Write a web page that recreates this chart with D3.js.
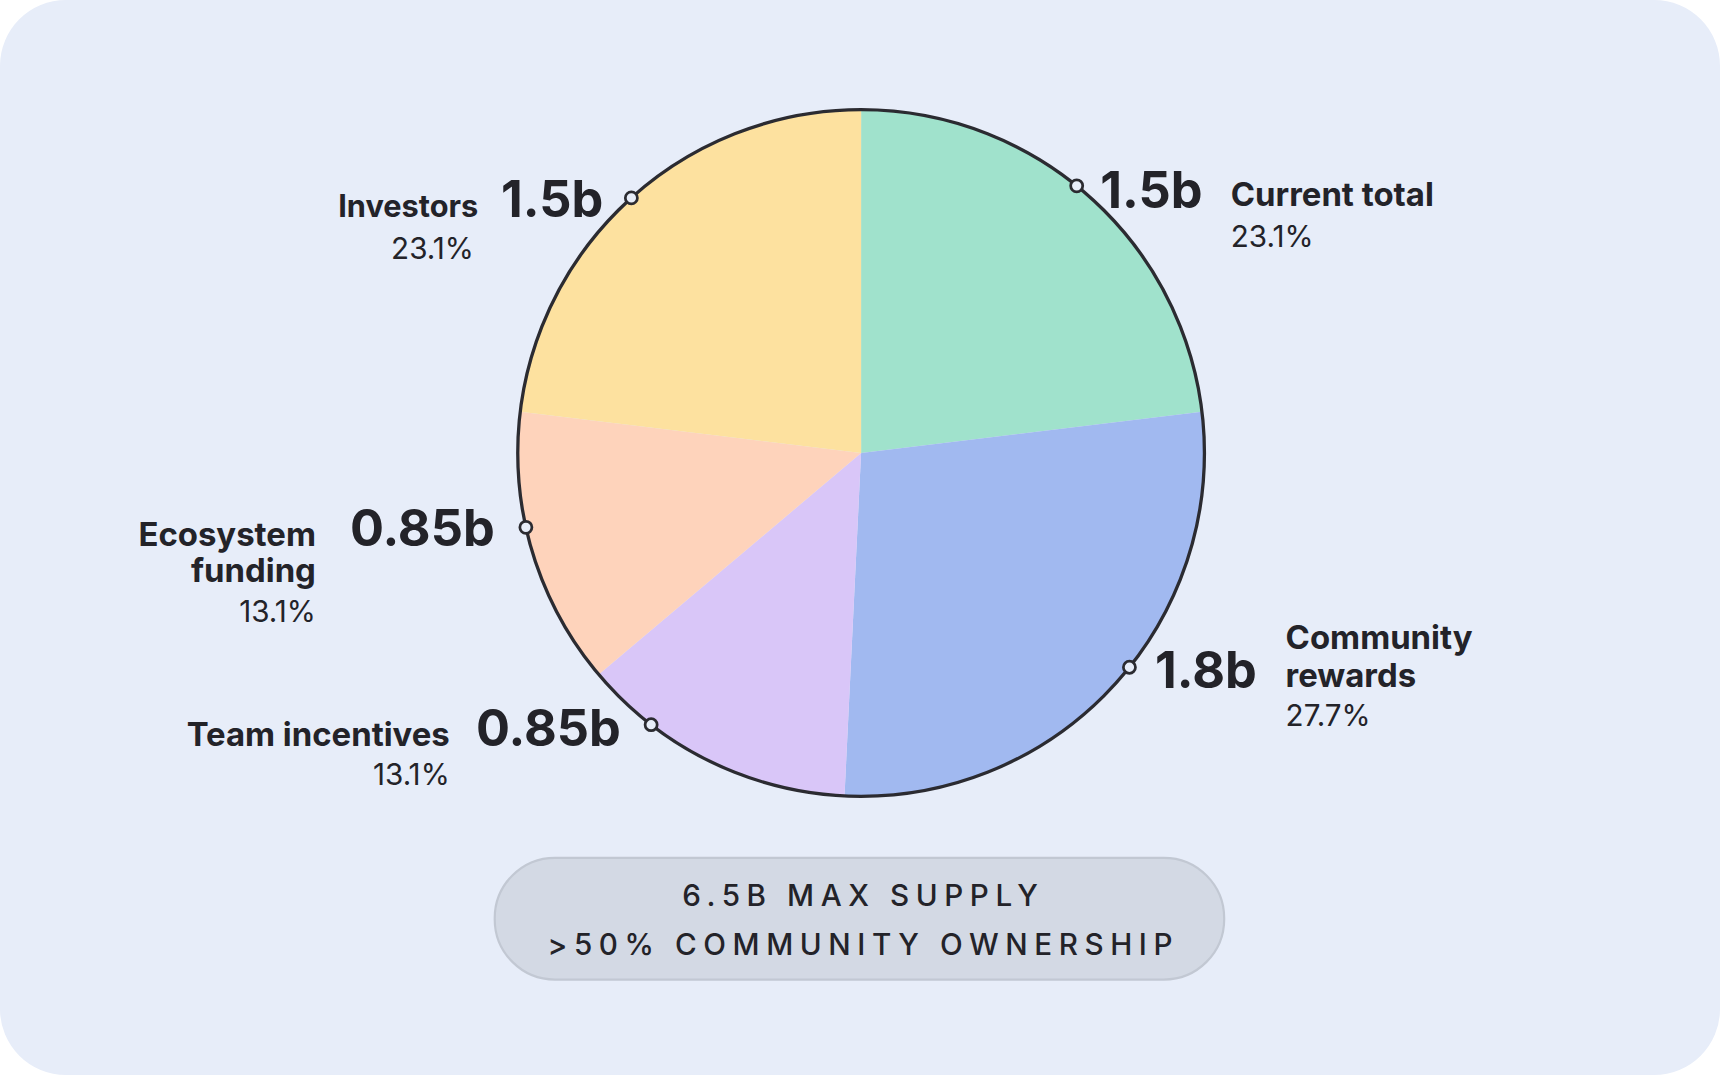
<!DOCTYPE html>
<html><head><meta charset="utf-8">
<script src="https://cdn.jsdelivr.net/npm/d3@7"></script>
<style>body{margin:0;background:#fff}svg{display:block}</style></head>
<body><svg id="c" width="1720" height="1076"></svg>
<script>
const categories=["Current total","Community rewards","Team incentives","Ecosystem funding","Investors"];
const values=[1.5,1.8,0.85,0.85,1.5];
const valueLabels=["1.5b","1.8b","0.85b","0.85b","1.5b"];
const percents=["23.1%","27.7%","13.1%","13.1%","23.1%"];
const colors=["#a0e2cc","#a1b9f0","#d9c6f8","#fed3bb","#fde19f"];
const dotAngles=[38.9,128.6,-142.3,-102.5,-42]; // degrees clockwise from top

const s=1720/1568;
const svg=d3.select("#c");
const g=svg.append("g").attr("transform",`scale(${s})`);
g.append("rect").attr("x",0).attr("y",0).attr("width",1568).attr("height",980).attr("rx",60).attr("fill","#e7edf9");
const cx=785,cy=413,r=313;
const pg=g.append("g").attr("transform",`translate(${cx},${cy})`);
const pie=d3.pie().sort(null)(values);
const arc=d3.arc().innerRadius(0).outerRadius(r);
pg.selectAll("path").data(pie).join("path").attr("d",arc).attr("fill",(d,i)=>colors[i]);
pg.append("circle").attr("r",r).attr("fill","none").attr("stroke","#2b2b31").attr("stroke-width",3);
dotAngles.forEach(a=>{const t=a*Math.PI/180;
 pg.append("circle").attr("cx",r*Math.sin(t)).attr("cy",-r*Math.cos(t)).attr("r",5.5)
  .attr("fill","#e7edf9").attr("stroke","#2b2b31").attr("stroke-width",2.5);});
const F="Inter, 'Noto Sans', sans-serif", C="#232329";
function t(x,y,txt,size,weight,anchor){g.append("text").attr("x",x).attr("y",y).text(txt)
 .attr("font-family",F).attr("font-size",size).attr("font-weight",weight).attr("fill",C).attr("text-anchor",anchor||"start");}
// Current total
t(1003,190,valueLabels[0],46,700);t(1122,188,"Current total",30,700);t(1122,225,percents[0],27,400);
// Community rewards
t(1053,627,valueLabels[1],46,700);t(1172,592,"Community",30,700);t(1172,626,"rewards",30,700);t(1172,662,percents[1],27,400);
// Team incentives
t(566,680,valueLabels[2],46,700,"end");t(410,680,"Team incentives",30,700,"end");t(410,716,percents[2],27,400,"end");
// Ecosystem
t(451,498,valueLabels[3],46,700,"end");t(288,498,"Ecosystem",30,700,"end");t(288,531,"funding",30,700,"end");t(288,567,percents[3],27,400,"end");
// Investors
t(550,198,valueLabels[4],46,700,"end");t(436,198,"Investors",28,700,"end");t(432,236,percents[4],27,400,"end");
// pill
g.append("rect").attr("x",451).attr("y",782).attr("width",665).attr("height",111).attr("rx",55)
 .attr("fill","#d3d9e4").attr("stroke","#c2c8d3").attr("stroke-width",2);
[["6.5B MAX SUPPLY",826],[">50% COMMUNITY OWNERSHIP",871]].forEach(([s2,y])=>{
 g.append("text").attr("x",787).attr("y",y).text(s2).attr("text-anchor","middle").attr("font-family",F)
  .attr("font-size",27).attr("font-weight",500).attr("letter-spacing",6).attr("fill",C);});
</script></body></html>
